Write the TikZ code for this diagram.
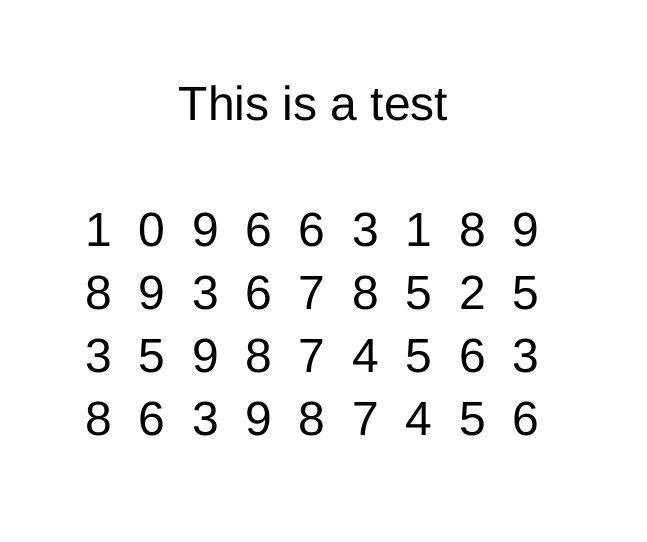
\documentclass[tikz,border=0pt]{standalone}
\usepackage{fontspec}
\setmainfont{Liberation Sans}
\begin{document}
\begin{tikzpicture}[x=1pt,y=-1pt,
  txt/.style={inner sep=0pt,anchor=base,font=\fontsize{48}{58}\selectfont}]
\useasboundingbox (0,0) rectangle (647,541);
\node[txt] (title) at (313.5,120) {This is a test};
\foreach \d [count=\c from 0] in {1,0,9,6,6,3,1,8,9}
  \node[txt] (dA\c) at ({98.6+53.4*\c},246) {\d};
\foreach \d [count=\c from 0] in {8,9,3,6,7,8,5,2,5}
  \node[txt] (dB\c) at ({98.6+53.4*\c},309) {\d};
\foreach \d [count=\c from 0] in {3,5,9,8,7,4,5,6,3}
  \node[txt] (dC\c) at ({98.6+53.4*\c},372) {\d};
\foreach \d [count=\c from 0] in {8,6,3,9,8,7,4,5,6}
  \node[txt] (dD\c) at ({98.6+53.4*\c},435) {\d};
\end{tikzpicture}
\end{document}
